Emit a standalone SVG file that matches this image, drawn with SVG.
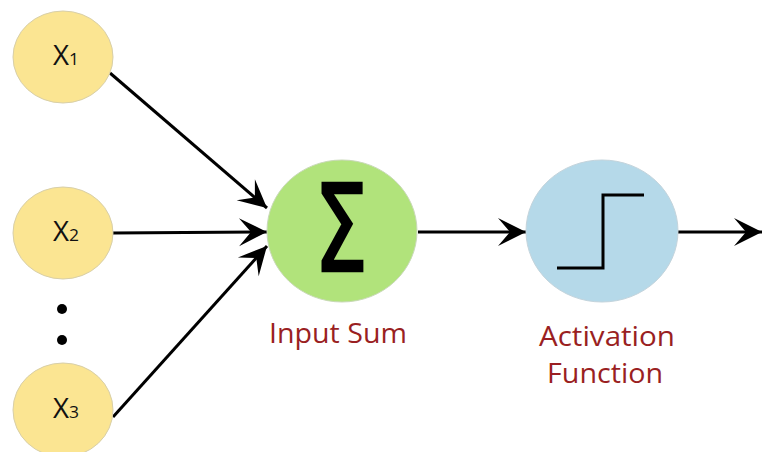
<svg xmlns="http://www.w3.org/2000/svg" width="763" height="452" viewBox="0 0 763 452">
  <defs>
    <style>
      .inp { fill: #fbe592; stroke: #d8cfa8; stroke-width: 1; }
      .sum { fill: #b1e37b; stroke: #c9d9b8; stroke-width: 1; }
      .act { fill: #b5d9e9; stroke: #c4d4dc; stroke-width: 1; }
      .xl { font-family: "Open Sans", "Liberation Sans", sans-serif; font-size: 27px; fill: #111; }
      .sub { font-size: 17px; }
      .cap { font-family: "Open Sans", "Liberation Sans", sans-serif; font-size: 27px; fill: #9a1f22; }
      .edge { stroke: #000; stroke-width: 3; fill: none; }
    </style>
    <marker id="head" viewBox="-30 -15 32 30" refX="0" refY="0" markerWidth="32" markerHeight="30" markerUnits="userSpaceOnUse" orient="auto">
      <path d="M0,0 L-28,-14 L-16,0 L-28,14 Z" fill="#000"/>
    </marker>
  </defs>

  <!-- connectors -->
  <g id="connectors">
    <line class="edge" x1="110" y1="73" x2="267" y2="208" marker-end="url(#head)"/>
    <line class="edge" x1="113" y1="233" x2="267" y2="232" marker-end="url(#head)"/>
    <line class="edge" x1="113" y1="417" x2="267" y2="246" marker-end="url(#head)"/>
    <line class="edge" x1="418" y1="232" x2="526" y2="232" marker-end="url(#head)"/>
    <line class="edge" x1="678" y1="232" x2="762" y2="232" marker-end="url(#head)"/>
  </g>

  <!-- inputs -->
  <g id="x1">
    <ellipse class="inp" cx="63" cy="57" rx="50" ry="46"/>
    <text class="xl" x="53" y="65" textLength="26" lengthAdjust="spacingAndGlyphs">X<tspan class="sub">1</tspan></text>
  </g>
  <g id="x2">
    <ellipse class="inp" cx="63" cy="233" rx="50" ry="46"/>
    <text class="xl" x="53" y="241" textLength="26" lengthAdjust="spacingAndGlyphs">X<tspan class="sub">2</tspan></text>
  </g>
  <g id="ellipsis">
    <circle cx="62" cy="309" r="5" fill="#000"/>
    <circle cx="62" cy="340" r="5" fill="#000"/>
  </g>
  <g id="x3">
    <ellipse class="inp" cx="63" cy="410" rx="50" ry="47"/>
    <text class="xl" x="53" y="418" textLength="26" lengthAdjust="spacingAndGlyphs">X<tspan class="sub">3</tspan></text>
  </g>

  <!-- summation node -->
  <g id="input-sum">
    <ellipse class="sum" cx="342" cy="231" rx="75" ry="71"/>
    <text x="314" y="271" font-family="'DejaVu Sans', sans-serif" font-size="122" fill="#000" stroke="#000" stroke-width="2.5" textLength="54" lengthAdjust="spacingAndGlyphs">Σ</text>
    <text class="cap" x="269" y="343" textLength="138" lengthAdjust="spacingAndGlyphs">Input Sum</text>
  </g>

  <!-- activation node -->
  <g id="activation">
    <ellipse class="act" cx="602" cy="231" rx="76" ry="71"/>
    <polyline points="557,268 603,268 603,195 644,195" stroke="#000" stroke-width="3" fill="none"/>
    <text class="cap" x="539" y="346" textLength="136" lengthAdjust="spacingAndGlyphs">Activation</text>
    <text class="cap" x="547" y="383" textLength="116" lengthAdjust="spacingAndGlyphs">Function</text>
  </g>
</svg>
